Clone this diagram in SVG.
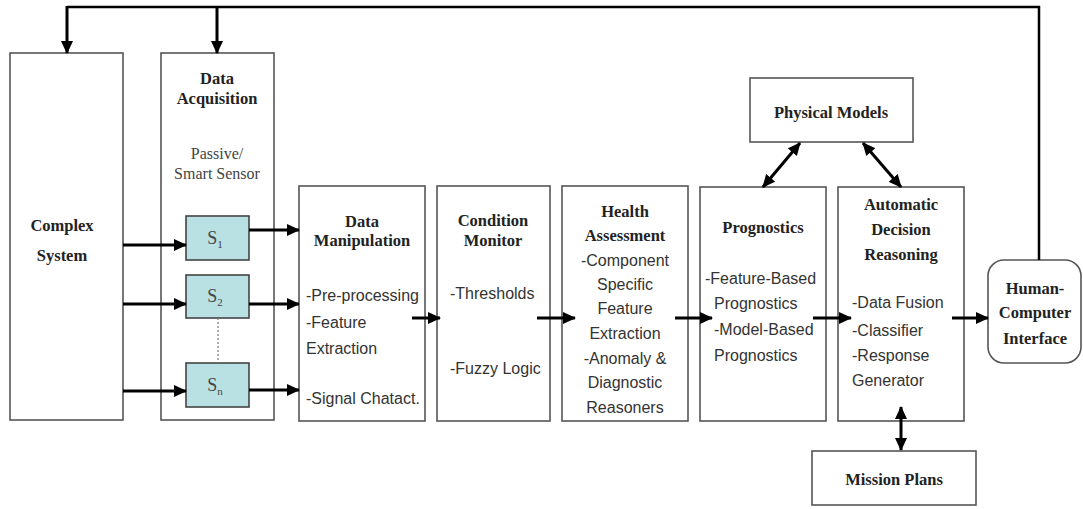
<svg xmlns="http://www.w3.org/2000/svg" width="1083" height="509" viewBox="0 0 1083 509">
<defs>
<marker id="ah" viewBox="0 0 13 12" refX="12" refY="6" markerWidth="13" markerHeight="12" markerUnits="userSpaceOnUse" orient="auto-start-reverse"><path d="M0,0 L13,6 L0,12 Z" fill="#000"/></marker>
</defs>
<style>
.box{fill:#fff;stroke:#555;stroke-width:1.6}
.sen{fill:#b9e0e3;stroke:#444;stroke-width:1.6}
.t{font-family:"Liberation Serif",serif;font-weight:bold;font-size:16.5px;fill:#222;text-anchor:middle}
.s{font-family:"Liberation Serif",serif;font-size:16px;fill:#444;text-anchor:middle}
.sl{font-family:"Liberation Serif",serif;font-size:18px;fill:#444;text-anchor:middle}
.sub{font-size:11px}
.b{font-family:"Liberation Sans",Arial,sans-serif;font-size:16px;fill:#333}
.bc{font-family:"Liberation Sans",Arial,sans-serif;font-size:16px;fill:#333;text-anchor:middle}
.a{stroke:#000;stroke-width:3;fill:none;marker-end:url(#ah)}
.a2{stroke:#000;stroke-width:3;fill:none;marker-end:url(#ah);marker-start:url(#ah)}
.ln{stroke:#000;stroke-width:2.5;fill:none}
</style>
<g id="complex-system">
<rect class="box" x="10" y="53" width="113" height="367"/>
<text class="t" x="62" y="231">Complex</text>
<text class="t" x="62" y="261">System</text>
</g>
<g id="data-acquisition">
<rect class="box" x="161" y="53" width="113" height="367"/>
<text class="t" x="217" y="84">Data</text>
<text class="t" x="217" y="104">Acquisition</text>
<text class="s" x="217" y="159">Passive/</text>
<text class="s" x="217" y="179">Smart Sensor</text>
</g>
<g id="s1">
<rect class="sen" x="186" y="216" width="63" height="44"/>
<text class="sl" x="215" y="244">S<tspan class="sub" dy="4">1</tspan></text>
</g>
<g id="s2">
<rect class="sen" x="186" y="275" width="63" height="43"/>
<text class="sl" x="215" y="302">S<tspan class="sub" dy="4">2</tspan></text>
</g>
<g id="sn">
<rect class="sen" x="186" y="363" width="63" height="44"/>
<text class="sl" x="215" y="391">S<tspan class="sub" dy="4">n</tspan></text>
</g>
<g id="data-manipulation">
<rect class="box" x="299" y="186" width="126" height="235"/>
<text class="t" x="362" y="227">Data</text>
<text class="t" x="362" y="246">Manipulation</text>
<text class="b" x="306" y="301">-Pre-processing</text>
<text class="b" x="306" y="328">-Feature</text>
<text class="b" x="306" y="354">Extraction</text>
<text class="b" x="306" y="404">-Signal Chatact.</text>
</g>
<g id="condition-monitor">
<rect class="box" x="437" y="186" width="113" height="235"/>
<text class="t" x="493" y="226">Condition</text>
<text class="t" x="493" y="246">Monitor</text>
<text class="b" x="450" y="299">-Thresholds</text>
<text class="b" x="450" y="374">-Fuzzy Logic</text>
</g>
<g id="health-assessment">
<rect class="box" x="562" y="186" width="126" height="235"/>
<text class="t" x="625" y="217">Health</text>
<text class="t" x="625" y="241">Assessment</text>
<text class="bc" x="625" y="266">-Component</text>
<text class="bc" x="625" y="290">Specific</text>
<text class="bc" x="625" y="314">Feature</text>
<text class="bc" x="625" y="339">Extraction</text>
<text class="bc" x="625" y="364">-Anomaly &amp;</text>
<text class="bc" x="625" y="388">Diagnostic</text>
<text class="bc" x="625" y="413">Reasoners</text>
</g>
<g id="prognostics">
<rect class="box" x="700" y="187" width="126" height="234"/>
<text class="t" x="763" y="233">Prognostics</text>
<text class="b" x="705" y="284">-Feature-Based</text>
<text class="b" x="714" y="309">Prognostics</text>
<text class="b" x="714" y="335">-Model-Based</text>
<text class="b" x="714" y="361">Prognostics</text>
</g>
<g id="automatic-decision-reasoning">
<rect class="box" x="838" y="187" width="126" height="234"/>
<text class="t" x="901" y="210">Automatic</text>
<text class="t" x="901" y="235">Decision</text>
<text class="t" x="901" y="260">Reasoning</text>
<text class="b" x="852" y="308">-Data Fusion</text>
<text class="b" x="852" y="336">-Classifier</text>
<text class="b" x="852" y="361">-Response</text>
<text class="b" x="852" y="386">Generator</text>
</g>
<g id="human-computer-interface">
<rect class="box" x="988" y="260" width="93" height="103" rx="16"/>
<text class="t" x="1035" y="294">Human-</text>
<text class="t" x="1035" y="318">Computer</text>
<text class="t" x="1035" y="344">Interface</text>
</g>
<g id="physical-models">
<rect class="box" x="750" y="78" width="163" height="64"/>
<text class="t" x="831" y="118">Physical Models</text>
</g>
<g id="mission-plans">
<rect class="box" x="812" y="451" width="164" height="54"/>
<text class="t" x="894" y="485">Mission Plans</text>
</g>
<g id="connectors">
<path class="ln" d="M67,7 H1039 V260"/>
<path class="a" d="M67,6 V53"/>
<path class="a" d="M217,6 V53"/>
<path class="a" d="M123,245 H186"/>
<path class="a" d="M123,304 H186"/>
<path class="a" d="M123,391 H186"/>
<path class="a" d="M249,230 H299"/>
<path class="a" d="M249,304 H299"/>
<path class="a" d="M249,390 H299"/>
<path d="M218,318 V363" stroke="#777" stroke-width="1.2" stroke-dasharray="2,2"/>
<path class="a" d="M412,318 H440"/>
<path class="a" d="M537,318 H575"/>
<path class="a" d="M675,318 H712"/>
<path class="a" d="M813,318 H851"/>
<path class="a" d="M952,318 H988"/>
<path class="a2" d="M763,187 L800,143"/>
<path class="a2" d="M863,143 L901,187"/>
<path class="a2" d="M901,407 V450"/>
</g>
</svg>
